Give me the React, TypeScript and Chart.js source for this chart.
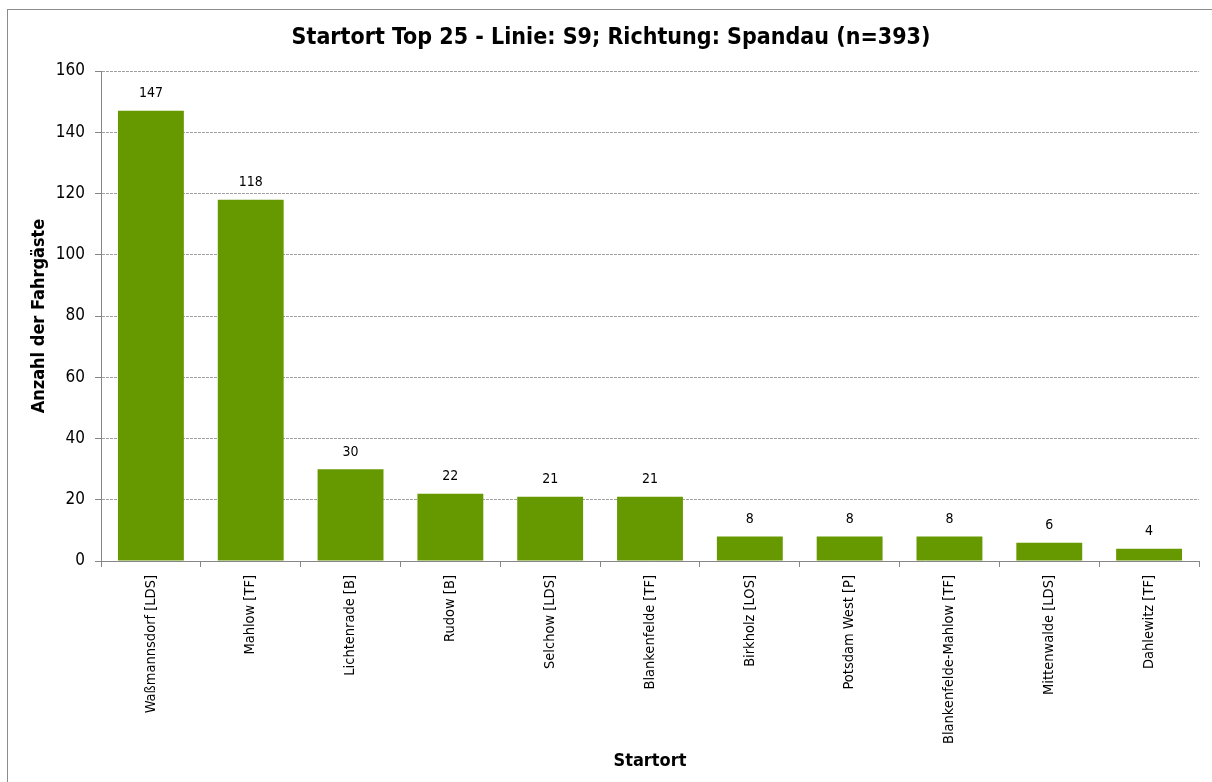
import React, { useEffect, useRef } from "react";
import { Chart, registerables } from "chart.js";

Chart.register(...registerables);

const TITLE = "Startort Top 25 - Linie: S9; Richtung: Spandau (n=393)";
const X_TITLE = "Startort";
const Y_TITLE = "Anzahl der Fahrgäste";
const categories = [
  "Waßmannsdorf [LDS]",
  "Mahlow [TF]",
  "Lichtenrade [B]",
  "Rudow [B]",
  "Selchow [LDS]",
  "Blankenfelde [TF]",
  "Birkholz [LOS]",
  "Potsdam West [P]",
  "Blankenfelde-Mahlow [TF]",
  "Mittenwalde [LDS]",
  "Dahlewitz [TF]",
];
const passengers = [147, 118, 30, 22, 21, 21, 8, 8, 8, 6, 4];
const yMin = 0;
const yMax = 160;
const yStep = 20;

const FONT = "'DejaVu Sans Condensed', 'DejaVu Sans', sans-serif";

const framePlugin = {
  id: "frame",
  beforeDraw(chart: any) {
    const { ctx, width, height } = chart;
    ctx.save();
    ctx.fillStyle = "#ffffff";
    ctx.fillRect(0, 0, width, height);
    ctx.strokeStyle = "#8c8c8c";
    ctx.lineWidth = 1;
    ctx.strokeRect(7.5, 9.5, width, height);
    ctx.restore();
  },
};

const valueLabelPlugin = {
  id: "valueLabels",
  afterDatasetsDraw(chart: any) {
    const { ctx } = chart;
    const meta = chart.getDatasetMeta(0);
    const data = chart.data.datasets[0].data;
    ctx.save();
    ctx.fillStyle = "#000000";
    ctx.font = `14px ${FONT}`;
    ctx.textAlign = "center";
    ctx.textBaseline = "bottom";
    meta.data.forEach((bar: any, i: number) => {
      ctx.fillText(String(data[i]), bar.x, bar.y - 10);
    });
    ctx.restore();
  },
};

export default function App() {
  const canvasRef = useRef<HTMLCanvasElement | null>(null);

  useEffect(() => {
    if (!canvasRef.current) return;
    const chart = new Chart(canvasRef.current, {
      type: "bar",
      data: {
        labels: categories,
        datasets: [
          {
            data: passengers,
            backgroundColor: "#669900",
            borderWidth: 0,
            barPercentage: 0.66,
            categoryPercentage: 1,
          },
        ],
      },
      options: {
        responsive: false,
        animation: false,
        layout: { padding: { left: 23, right: 13, top: 0, bottom: 0 } },
        plugins: {
          legend: { display: false },
          tooltip: { enabled: false },
          title: {
            display: true,
            text: TITLE,
            color: "#000000",
            font: { family: FONT, size: 23, weight: "bold", lineHeight: 1.2 },
            padding: { top: 24.5, bottom: 18.9 },
          },
        },
        scales: {
          x: {
            offset: true,
            afterFit: (scale: any) => {
              scale.height = 221;
            },
            grid: {
              offset: true,
              drawOnChartArea: false,
              drawTicks: true,
              tickLength: 6,
              color: "#868686",
            },
            border: { display: true, color: "#868686", width: 1 },
            ticks: {
              color: "#000000",
              font: { family: FONT, size: 14.5 },
              minRotation: 90,
              maxRotation: 90,
              autoSkip: false,
              padding: 8,
            },
            title: {
              display: true,
              text: X_TITLE,
              color: "#000000",
              font: { family: FONT, size: 18, weight: "bold", lineHeight: 1.2 },
              padding: { top: 0, bottom: 10 },
            },
          },
          y: {
            min: yMin,
            max: yMax,
            afterFit: (scale: any) => {
              scale.width = 78;
            },
            grid: {
              color: "#a0a0a0",
              lineWidth: 1,
              drawTicks: true,
              tickLength: 6,
              tickColor: "#868686",
              tickBorderDash: [],
              borderDash: [3, 1],
            } as any,
            border: { display: true, color: "#868686", width: 1, dash: [3, 1] },
            ticks: {
              stepSize: yStep,
              color: "#000000",
              font: { family: FONT, size: 17 },
              padding: 10,
            },
            title: {
              display: true,
              text: Y_TITLE,
              color: "#000000",
              font: { family: FONT, size: 18, weight: "bold", lineHeight: 1.2 },
              padding: { top: 6, bottom: 0 },
            },
          },
        },
      },
      plugins: [framePlugin, valueLabelPlugin],
    });
    return () => chart.destroy();
  }, []);

  return (
    <div style={{ position: "absolute", left: 0, top: 0, width: 1212, height: 782 }}>
      <canvas ref={canvasRef} width={1212} height={782} style={{ display: "block" }} />
    </div>
  );
}
